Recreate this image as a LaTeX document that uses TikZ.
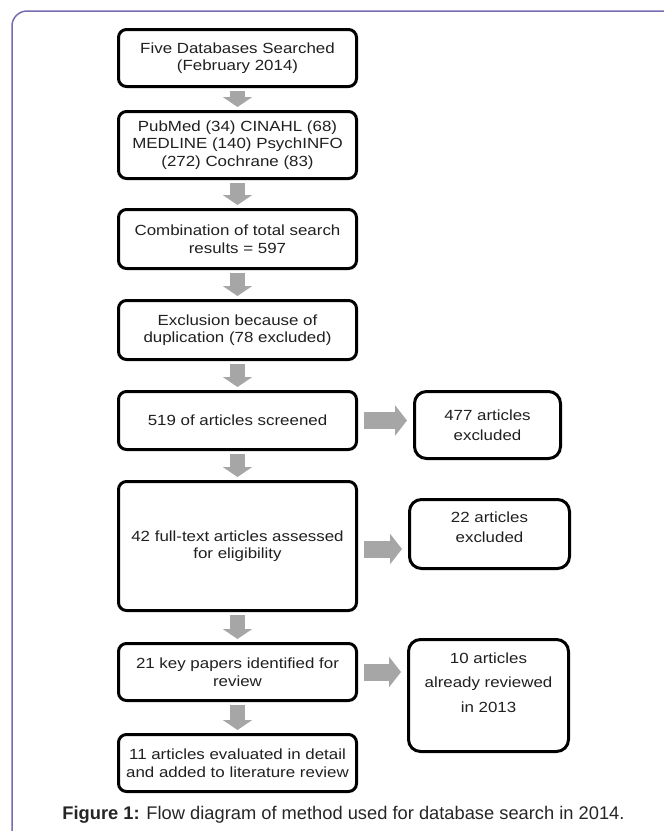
\documentclass[tikz,border=0pt]{standalone}
\usepackage{fontspec}
\setmainfont{Liberation Sans}
\newfontfamily\boxfont{Liberation Sans}[FakeStretch=1.15]
\usetikzlibrary{arrows.meta}

\definecolor{framecol}{RGB}{118,108,178}
\definecolor{arrowgray}{RGB}{166,166,166}
\definecolor{inkcol}{RGB}{32,32,32}

\tikzset{
    mainbox/.style={draw=black, line width=3pt, rounded corners=8pt, fill=white,
        minimum width=238pt, align=center, text=inkcol,
        font=\boxfont\fontsize{14.7}{17.5}\selectfont},
    sidebox/.style={draw=black, line width=3pt, rounded corners=12pt, fill=white,
        align=center, text=inkcol,
        font=\boxfont\fontsize{14.7}{20}\selectfont},
    downarrow/.style={draw=arrowgray, line width=15pt,
        -{Triangle[width=29pt, length=10pt]}, shorten <=3pt, shorten >=3pt},
    sidearrow/.style={draw=arrowgray, line width=17pt,
        -{Triangle[width=30pt, length=12pt]}, shorten <=6pt, shorten >=6pt},
}

\begin{document}
\begin{tikzpicture}[x=1pt, y=-1pt]
    \useasboundingbox (0, 0) rectangle (664, 831);

    % outer frame
    \draw[framecol, line width=1.5pt, rounded corners=15pt] (12, 850) -- (12, 11) -- (680, 11);

    \node[mainbox, minimum height=57pt] (b1) at (237.5, 58) {Five Databases Searched\\(February 2014)};
    \node[mainbox, minimum height=67pt] (b2) at (237.5, 145) {PubMed (34) CINAHL (68)\\MEDLINE (140) PsychINFO\\(272) Cochrane (83)};
    \node[mainbox, minimum height=59pt] (b3) at (237.5, 239) {Combination of total search\\results = 597};
    \node[mainbox, minimum height=59pt] (b4) at (237.5, 330) {Exclusion because of\\duplication (78 excluded)};
    \node[mainbox, minimum height=58pt] (b5) at (237.5, 420.5) {519 of articles screened};
    \node[mainbox, minimum height=129pt] (b6) at (237.5, 546) {42 full-text articles assessed\\for eligibility};
    \node[mainbox, minimum height=57pt] (b7) at (237.5, 672) {21 key papers identified for\\review};
    \node[mainbox, minimum height=57pt] (b8) at (237.5, 763) {11 articles evaluated in detail\\and added to literature review};

    \node[sidebox, minimum width=146pt, minimum height=67pt] (r1) at (487.5, 425) {477 articles\\excluded};
    \node[sidebox, minimum width=160pt, minimum height=69pt] (r2) at (489.5, 534) {22 articles\\excluded\\[-6pt]};
    \node[sidebox, minimum width=160pt, minimum height=112pt] (r3) at (488.5, 695.5) {};
    \node[align=center, text=inkcol, font=\boxfont\fontsize{14.7}{24.5}\selectfont]
        (r3txt) at ([yshift=13pt]r3.center) {10 articles\\already reviewed\\in 2013};

    \draw[downarrow] (b1) -- (b2);
    \draw[downarrow] (b2) -- (b3);
    \draw[downarrow] (b3) -- (b4);
    \draw[downarrow] (b4) -- (b5);
    \draw[downarrow] (b5) -- (b6);
    \draw[downarrow] (b6) -- (b7);
    \draw[downarrow] (b7) -- (b8);

    \draw[sidearrow] (b5.east) -- (b5.east -| r1.west);
    \draw[sidearrow] ([yshift=-3pt]b6.east) -- ([yshift=-3pt]b6.east -| r2.west);
    \draw[sidearrow] (b7.east) -- (b7.east -| r3.west);

    \node[text={rgb,255:red,38;green,38;blue,38}, font=\fontsize{18.3}{22}\selectfont] (cap) at (343.5, 815)
        {\textbf{Figure 1:} Flow diagram of method used for database search in 2014.};

\end{tikzpicture}
\end{document}
